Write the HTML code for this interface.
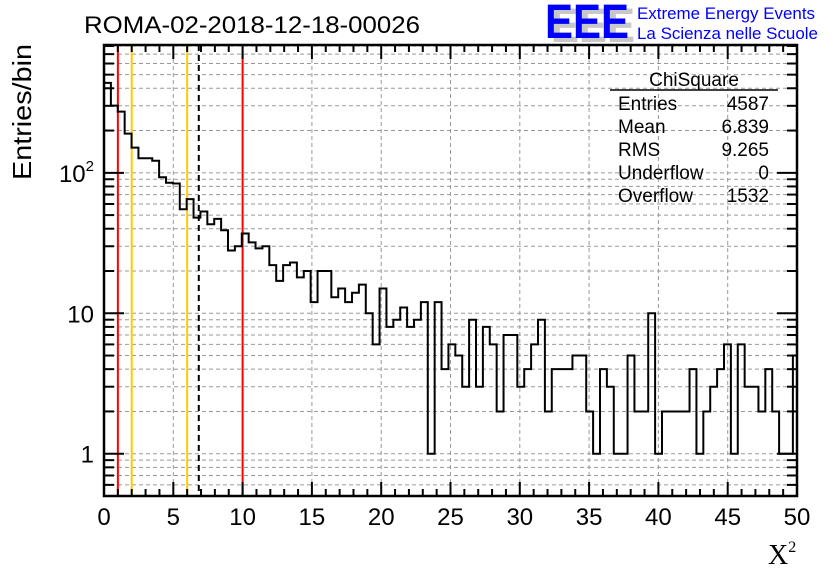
<!DOCTYPE html>
<html><head><meta charset="utf-8">
<style>
html,body{margin:0;padding:0;background:#fff;}
svg{display:block;font-family:"Liberation Sans",sans-serif;}
</style></head>
<body>
<svg id="chart" width="836" height="572" viewBox="0 0 836 572" xmlns="http://www.w3.org/2000/svg">
  <defs><clipPath id="pc"><rect x="104" y="45" width="693" height="451"/></clipPath></defs>
  <rect width="836" height="572" fill="#fff"/>
  <g id="grid"></g>
  <g id="vlines"></g>
  <g id="hist" clip-path="url(#pc)"></g>
  <g id="axes"></g>
  <text x="84" y="33" font-size="24" textLength="336" lengthAdjust="spacingAndGlyphs">ROMA-02-2018-12-18-00026</text>
  <text transform="translate(31,112) rotate(-90)" font-size="26" text-anchor="middle" textLength="136" lengthAdjust="spacingAndGlyphs">Entries/bin</text>
  <text x="768" y="564" font-size="28" font-family="'Liberation Serif',serif">X<tspan font-size="16" dy="-12">2</tspan></text>
  <g>
    <text x="551" y="42" font-size="48" font-weight="bold" fill="#c8c8c8" textLength="84" lengthAdjust="spacingAndGlyphs">EEE</text>
    <text x="545" y="38" font-size="48" font-weight="bold" fill="#0000ff" textLength="84" lengthAdjust="spacingAndGlyphs">EEE</text>
    <text x="637" y="19" font-size="17" fill="#0000ff" textLength="178" lengthAdjust="spacingAndGlyphs">Extreme Energy Events</text>
    <text x="637" y="39" font-size="17" fill="#0000ff" textLength="181" lengthAdjust="spacingAndGlyphs">La Scienza nelle Scuole</text>
  </g>
  <g font-size="19">
    <text x="694" y="86" text-anchor="middle">ChiSquare</text>
    <line x1="610" y1="90" x2="778" y2="90" stroke="#000" stroke-width="1.5"/>
    <text x="618" y="110">Entries</text><text x="769" y="110" text-anchor="end">4587</text>
    <text x="618" y="133">Mean</text><text x="769" y="133" text-anchor="end">6.839</text>
    <text x="618" y="156">RMS</text><text x="769" y="156" text-anchor="end">9.265</text>
    <text x="618" y="179">Underflow</text><text x="769" y="179" text-anchor="end">0</text>
    <text x="618" y="202">Overflow</text><text x="769" y="202" text-anchor="end">1532</text>
  </g>
</svg>
<script>
const counts = [437,301,273,190,151,127,127,122,93,85,84,55,65,48,53,43,47,39,28,30,
37,32,29,30,22,17,22,23,18,20,12,20,20,13,15,12,14,16,10,6,
15,8,9,11,8,9,12,1,12,4,6,5,3,9,3,8,6,2,7,7,
3,4,6,9,2,4,4,4,5,5,2,1,4,3,1,1,5,2,2,10,
1,2,2,2,2,4,1,2,3,4,6,1,6,3,3,2,4,2,1,1,5];
const binLo = 0, binHi = 50.2;
const xTicks = [0,5,10,15,20,25,30,35,40,45,50];
const yTicks = [1,10,100];
const yTickBase = ["1","10","10"];
const yTickExp = ["","","2"];
const refLines = [1,2,6,6.839,10];
const refColors = ["#ff0000","#ffcc00","#ffcc00","#000000","#ff0000"];

const L=104,R=797,T=45,B=496, yMin=0.5, yMax=813, xMax=50;
const sx=v=>L+v/xMax*(R-L);
const sy=v=>B-(Math.log10(v)-Math.log10(yMin))/(Math.log10(yMax)-Math.log10(yMin))*(B-T);
const NS="http://www.w3.org/2000/svg";
function mk(tag,attrs,parent){const e=document.createElementNS(NS,tag);for(const k in attrs)e.setAttribute(k,attrs[k]);parent.appendChild(e);return e;}
const grid=document.getElementById('grid'),axes=document.getElementById('axes'),hist=document.getElementById('hist'),vl=document.getElementById('vlines');

for(let d=-1;d<=2;d++)for(let m=1;m<=9;m++){const v=m*Math.pow(10,d);if(v<yMin||v>yMax)continue;const y=sy(v);
 const g=mk('line',{x1:L,x2:R,y1:y,y2:y,stroke:'#999','stroke-dasharray':'4,3','stroke-width':1},grid);
 
 
 const len=m===1?20:10;
 const t1=mk('line',{x1:L,x2:L+len,y1:y,y2:y,stroke:'#000','stroke-width':2},axes);
 
 
 const t2=mk('line',{x1:R-len,x2:R,y1:y,y2:y,stroke:'#000','stroke-width':2},axes);
 
 
}
xTicks.forEach(v=>{const x=sx(v);
 if(v>0&&v<xMax){const g=mk('line',{x1:x,x2:x,y1:T,y2:B,stroke:'#999','stroke-dasharray':'4,3','stroke-width':1},grid);
 
 }
 const t=mk('text',{x:x,y:B+29,'font-size':24,'text-anchor':'middle'},axes);t.textContent=v;
 
 
});
for(let v=0;v<=xMax;v++){const x=sx(v);const len=v%5===0?14:7;
 mk('line',{x1:x,x2:x,y1:B,y2:B-len,stroke:'#000','stroke-width':2},axes);
 mk('line',{x1:x,x2:x,y1:T,y2:T+len,stroke:'#000','stroke-width':2},axes);
}
yTicks.forEach((v,i)=>{const t=mk('text',{x:L-10,y:sy(v)+9,'font-size':24,'text-anchor':'end'},axes);
 t.textContent=yTickBase[i];
 if(yTickExp[i]){t.setAttribute('x',L-20);const s=mk('tspan',{'font-size':15,dy:-11},t);s.textContent=yTickExp[i];t.setAttribute('x',L-10);}
 
 });

refLines.forEach((v,i)=>{const x=sx(v);const a={x1:x,x2:x,y1:T,y2:B,stroke:refColors[i],'stroke-width':2};if(refColors[i]==='#000000')a['stroke-dasharray']='6,4';
 const l=mk('line',a,vl);
 
 });

const w=(binHi-binLo)/counts.length;let d='M'+sx(binLo)+','+sy(counts[0]);
counts.forEach((c,i)=>{const x0=sx(binLo+i*w),x1=sx(binLo+(i+1)*w),y=sy(Math.max(c,yMin));
 if(i>0)d+=' L'+x0+','+y;d+=' L'+x1+','+y;});
const p=mk('path',{d:d,fill:'none',stroke:'#000','stroke-width':2},hist);



const f=mk('rect',{x:L,y:T,width:R-L,height:B-T,fill:'none',stroke:'#000','stroke-width':2.5},axes);


</script>
</body></html>
